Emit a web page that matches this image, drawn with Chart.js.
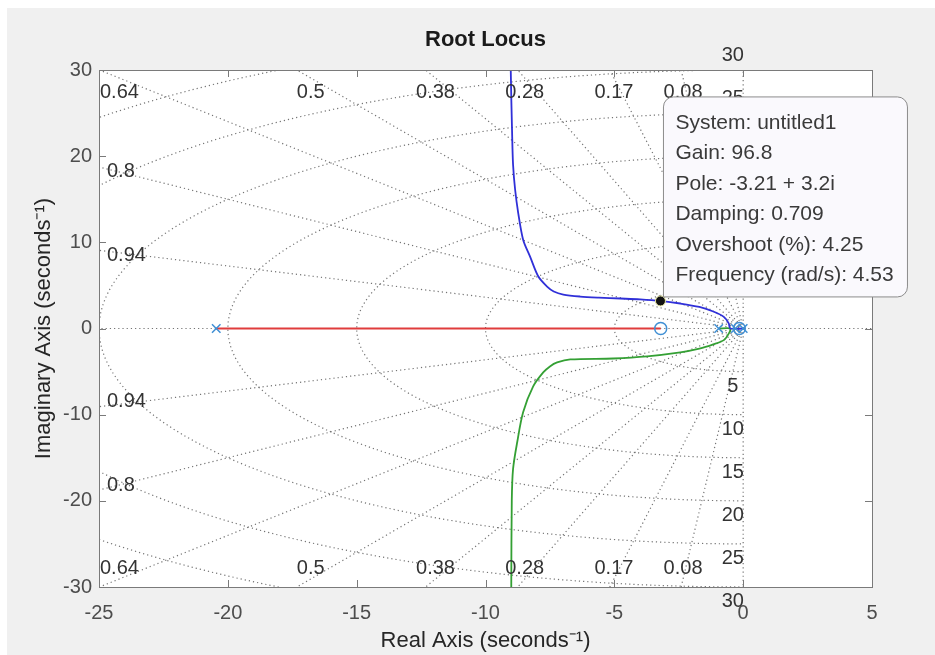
<!DOCTYPE html>
<html>
<head>
<meta charset="utf-8">
<title>Root Locus</title>
<script src="https://cdn.jsdelivr.net/npm/chart.js@4.4.1/dist/chart.umd.min.js"></script>
<style>
  html, body { margin: 0; padding: 0; background: #fff; }
  #wrap { position: relative; width: 935px; height: 655px; }
</style>
</head>
<body>
<div id="wrap"><canvas id="rlocus"></canvas></div>
<script>
// axis ticks
const xTicks = [-25, -20, -15, -10, -5, 0, 5];
const yTicks = [-30, -20, -10, 0, 10, 20, 30];

// sgrid: damping ratios (rays) and natural frequencies (circles)
const dampingValues = [0.08, 0.17, 0.28, 0.38, 0.5, 0.64, 0.8, 0.94];
const dampingLabels = ['0.08', '0.17', '0.28', '0.38', '0.5', '0.64', '0.8', '0.94'];
const freqValues = [5, 10, 15, 20, 25, 30, 35];
const freqLabels = ['5', '10', '15', '20', '25', '30', '35'];

// open loop poles and zeros (all real)
const poleRe = [-20.45, -0.95, -0.3, 0];
const zeroRe = [-3.2, -0.15];

// locus branches
const redRe = [-20.45, -3.2];
const redIm = [0, 0];
const blueRe = [0, -0.5, -0.56, -0.75, -1.16, -1.7, -2.44, -3.21, -4.0, -4.77, -5.6, -6.33, -6.98, -7.35, -7.61, -7.95, -8.27, -8.54, -8.73, -8.85, -8.93, -8.97, -9.02, -9.03];
const blueIm = [0, 0, 0.6, 1.35, 1.97, 2.5, 2.9, 3.2, 3.38, 3.48, 3.58, 3.71, 3.94, 4.3, 4.87, 6.03, 8.34, 10.3, 13.4, 16.1, 19.0, 23.0, 30.0, 35.0];
const greenRe = [-0.95, -0.5, -0.56, -0.75, -1.16, -1.7, -2.44, -3.73, -5.04, -6.71, -7.22, -7.5, -7.76, -8.15, -8.54, -8.77, -8.93, -8.98, -9.0, -9.01];
const greenIm = [0, 0, -0.6, -1.35, -1.85, -2.35, -2.78, -3.24, -3.48, -3.59, -3.94, -4.4, -5.1, -6.72, -9.73, -13.2, -16.3, -20.0, -30.0, -35.0];

// data tip
const tipRe = -3.21;
const tipIm = 3.2;
const tipLines = ['System: untitled1', 'Gain: 96.8', 'Pole: -3.21 + 3.2i', 'Damping: 0.709', 'Overshoot (%): 4.25', 'Frequency (rad/s): 4.53'];

const FONT = '"Liberation Sans", Arial, Helvetica, sans-serif';
const gridColor = '#747474';

const toPoints = (xs, ys) => xs.map((x, i) => ({ x: x, y: ys[i] }));

// grid datasets (rays and circles of the s-plane grid)
const gridSets = [];
const gridStyle = { showLine: true, pointRadius: 0, borderColor: gridColor, borderWidth: 1.2, borderDash: [1.2, 3], order: 10 };
dampingValues.forEach(z => {
  const w = Math.sqrt(1 - z * z);
  gridSets.push(Object.assign({ data: [{ x: 0, y: 0 }, { x: -80 * z, y: 80 * w }] }, gridStyle));
  gridSets.push(Object.assign({ data: [{ x: 0, y: 0 }, { x: -80 * z, y: -80 * w }] }, gridStyle));
});
gridSets.push(Object.assign({ data: [{ x: -80, y: 0 }, { x: 80, y: 0 }] }, gridStyle));
gridSets.push(Object.assign({ data: [{ x: 0, y: -80 }, { x: 0, y: 80 }] }, gridStyle));
freqValues.forEach(r => {
  const pts = [];
  for (let a = 90; a <= 270; a += 2) {
    const t = a * Math.PI / 180;
    pts.push({ x: r * Math.cos(t), y: r * Math.sin(t) });
  }
  gridSets.push(Object.assign({ data: pts }, gridStyle));
});

const branch = (xs, ys, color, width) => ({
  data: toPoints(xs, ys), showLine: true, pointRadius: 0, borderColor: color,
  borderWidth: width, tension: 0.3, order: 2
});

const locusSets = [
  branch(redRe, redIm, '#e03c3c', 2),
  branch(blueRe, blueIm, '#3030d8', 1.8),
  branch(greenRe, greenIm, '#34a034', 1.8),
  {
    data: poleRe.map(x => ({ x: x, y: 0 })), showLine: false, pointStyle: 'crossRot',
    pointRadius: 6, borderColor: '#3f8fd4', borderWidth: 1.5, order: 1
  },
  {
    data: zeroRe.map(x => ({ x: x, y: 0 })), showLine: false, pointStyle: 'circle',
    pointRadius: 6, borderColor: '#3f8fd4', backgroundColor: 'rgba(0,0,0,0)', borderWidth: 1.5, order: 1
  },
  {
    data: [{ x: tipRe, y: tipIm }], showLine: false, pointStyle: 'circle',
    pointRadius: 5, backgroundColor: '#111111', borderColor: '#e6e6a0', borderWidth: 1, order: 0
  }
];

// background, box, inward ticks, grid labels and the data tip
const matlabLook = {
  id: 'matlabLook',
  beforeDraw(chart) {
    const { ctx, chartArea: a } = chart;
    ctx.save();
    ctx.fillStyle = '#ffffff';
    ctx.fillRect(0, 0, chart.width, chart.height);
    ctx.fillStyle = '#f0f0f0';
    ctx.fillRect(7, 8, chart.width - 7, chart.height - 8);
    ctx.fillStyle = '#ffffff';
    ctx.fillRect(a.left, a.top, a.right - a.left, a.bottom - a.top);
    ctx.restore();
  },
  afterDatasetsDraw(chart) {
    const { ctx, chartArea: a, scales } = chart;
    const sx = scales.x, sy = scales.y;
    ctx.save();

    // box and ticks
    ctx.strokeStyle = '#7a7a7a';
    ctx.lineWidth = 1;
    ctx.strokeRect(a.left + 0.5, a.top + 0.5, a.right - a.left, a.bottom - a.top);
    ctx.beginPath();
    xTicks.forEach(v => {
      const p = Math.round(sx.getPixelForValue(v)) + 0.5;
      ctx.moveTo(p, a.bottom); ctx.lineTo(p, a.bottom - 7);
      ctx.moveTo(p, a.top); ctx.lineTo(p, a.top + 7);
    });
    yTicks.forEach(v => {
      const p = Math.round(sy.getPixelForValue(v)) + 0.5;
      ctx.moveTo(a.left, p); ctx.lineTo(a.left + 7, p);
      ctx.moveTo(a.right, p); ctx.lineTo(a.right - 7, p);
    });
    ctx.stroke();

    // damping labels
    ctx.font = '20px ' + FONT;
    ctx.fillStyle = '#333333';
    ctx.textBaseline = 'middle';
    ctx.textAlign = 'center';
    const yMax = sy.max, xMin = sx.min;
    dampingValues.forEach((z, i) => {
      const slope = Math.sqrt(1 - z * z) / z;
      const hitX = -yMax / slope;
      const txt = dampingLabels[i];
      const w = ctx.measureText(txt).width;
      if (hitX >= xMin) {
        let cx = sx.getPixelForValue(hitX) - 0.8 * hitX;
        cx = Math.max(cx, a.left + w / 2 + 1);
        ctx.fillText(txt, cx, a.top + 22);
        ctx.fillText(txt, cx, a.bottom - 19);
      } else {
        const hitY = -xMin * slope;
        const cx = a.left + 8 + w / 2;
        ctx.fillText(txt, cx, sy.getPixelForValue(hitY) + 5);
        ctx.fillText(txt, cx, sy.getPixelForValue(-hitY) - 5);
      }
    });

    // natural frequency labels
    freqValues.forEach((r, i) => {
      if (r > yMax) return;
      const cx = sx.getPixelForValue(-0.4);
      ctx.fillText(freqLabels[i], cx, sy.getPixelForValue(r + 1.7));
      ctx.fillText(freqLabels[i], cx, sy.getPixelForValue(-r - 1.7));
    });

    // data tip box
    const px = sx.getPixelForValue(tipRe), py = sy.getPixelForValue(tipIm);
    const bx = px + 3, bw = 244, bh = 200, by = py - 4 - bh, rad = 10;
    ctx.beginPath();
    ctx.moveTo(bx + rad, by);
    ctx.lineTo(bx + bw - rad, by);
    ctx.arcTo(bx + bw, by, bx + bw, by + rad, rad);
    ctx.lineTo(bx + bw, by + bh - rad);
    ctx.arcTo(bx + bw, by + bh, bx + bw - rad, by + bh, rad);
    ctx.lineTo(bx, by + bh);
    ctx.lineTo(bx, by + rad);
    ctx.arcTo(bx, by, bx + rad, by, rad);
    ctx.closePath();
    ctx.fillStyle = '#faf9fd';
    ctx.fill();
    ctx.strokeStyle = '#8c8c8c';
    ctx.stroke();
    ctx.fillStyle = '#3a3a3a';
    ctx.font = '21px ' + FONT;
    ctx.textAlign = 'left';
    tipLines.forEach((t, i) => ctx.fillText(t, bx + 12, by + 26 + i * 30.5));

    ctx.restore();
  }
};

new Chart(document.getElementById('rlocus'), {
  type: 'scatter',
  data: { datasets: locusSets.concat(gridSets) },
  options: {
    responsive: true,
    maintainAspectRatio: false,
    animation: false,
    events: [],
    layout: { padding: { left: 0, top: 0, right: 63, bottom: 0 } },
    plugins: {
      legend: { display: false },
      tooltip: { enabled: false },
      title: {
        display: true,
        fullSize: false,
        text: 'Root Locus',
        color: '#1a1a1a',
        font: { family: FONT, size: 22, weight: 'bold' },
        padding: { top: 26.8, bottom: 16.8 }
      }
    },
    scales: {
      x: {
        type: 'linear', min: -25, max: 5,
        afterBuildTicks: s => { s.ticks = xTicks.map(v => ({ value: v })); },
        afterFit: s => { s.height = 68; },
        grid: { display: false, drawTicks: false },
        border: { display: false },
        ticks: { color: '#4d4d4d', padding: 14, font: { family: FONT, size: 20 } },
        title: { display: true, text: 'Real Axis (seconds\u207B\u00B9)', color: '#262626', padding: { bottom: 1 }, font: { family: FONT, size: 22 } }
      },
      y: {
        type: 'linear', min: -30, max: 30,
        afterBuildTicks: s => { s.ticks = yTicks.map(v => ({ value: v })); },
        afterFit: s => { s.width = 99; },
        grid: { display: false, drawTicks: false },
        border: { display: false },
        ticks: { color: '#4d4d4d', padding: 7, font: { family: FONT, size: 20 } },
        title: { display: true, text: 'Imaginary Axis (seconds\u207B\u00B9)', color: '#262626', padding: { top: 31 }, font: { family: FONT, size: 22 } }
      }
    }
  },
  plugins: [matlabLook]
});
</script>
</body>
</html>
